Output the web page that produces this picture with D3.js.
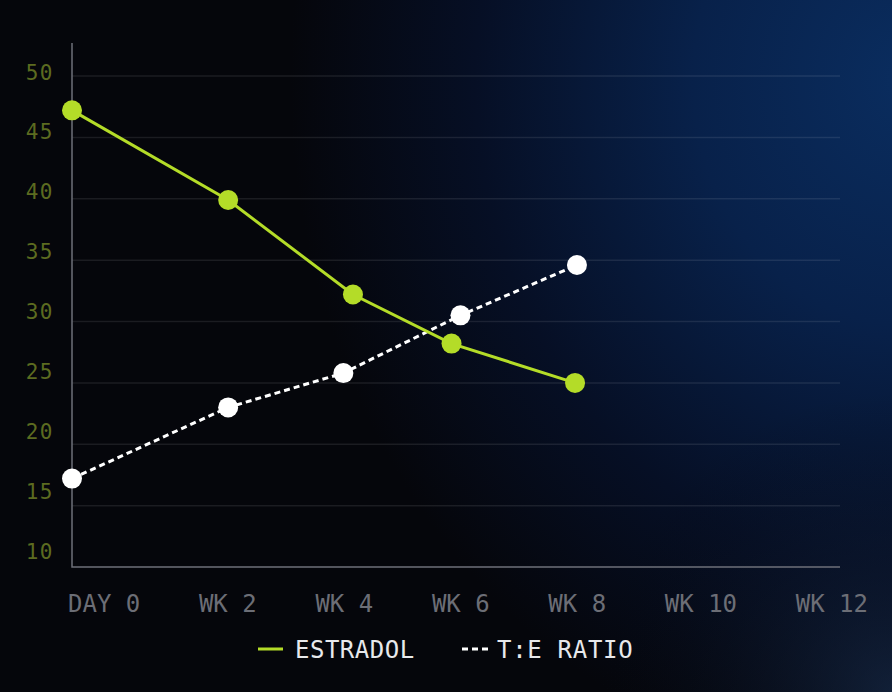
<!DOCTYPE html>
<html>
<head>
<meta charset="utf-8">
<script src="https://cdn.jsdelivr.net/npm/d3@7"></script>
<style>
  html, body { margin: 0; padding: 0; background: #05060b; }
  svg { display: block; }
</style>
</head>
<body>
<svg id="svg" width="892" height="692"></svg>
<script>
const svg = d3.select("#svg");

// x positions are in weeks
const estradolWeeks = [0, 2.44, 4.39, 5.93, 7.86];
const estradolValues = [47.2, 39.9, 32.2, 28.2, 25.0];

const ratioWeeks = [0, 2.44, 4.24, 6.07, 7.89];
const ratioValues = [17.2, 23.0, 25.8, 30.5, 34.6];

const xLabels = ["DAY 0", "WK 2", "WK 4", "WK 6", "WK 8", "WK 10", "WK 12"];
const yTicks = [10, 15, 20, 25, 30, 35, 40, 45, 50];

const width = 892;
const height = 692;
const plot = { left: 72, right: 840, top: 76, bottom: 567 };

const lime = "#b4dc28";
const mono = "'DejaVu Sans Mono', 'Liberation Mono', monospace";

const x = d3.scaleLinear().domain([0, 12]).range([plot.left, plot.right]);
const y = d3.scaleLinear().domain([10, 50]).range([plot.bottom, plot.top]);
// tick labels sit slightly off the grid in the original
const yLabel = d3.scaleLinear().domain([10, 50]).range([551, 72]);

// background: dark, with a blue glow coming in from the top right
const defs = svg.append("defs");
const bg = defs.append("radialGradient")
  .attr("id", "bg")
  .attr("gradientUnits", "userSpaceOnUse")
  .attr("cx", 0).attr("cy", 0).attr("r", 1)
  .attr("gradientTransform", "translate(910,80) scale(620,700)");
bg.append("stop").attr("offset", 0).attr("stop-color", "#0a2d5f");
bg.append("stop").attr("offset", 0.35).attr("stop-color", "#08214a");
bg.append("stop").attr("offset", 0.7).attr("stop-color", "#060f25");
bg.append("stop").attr("offset", 1).attr("stop-color", "#05060b");

const bg2 = defs.append("radialGradient")
  .attr("id", "bg2")
  .attr("gradientUnits", "userSpaceOnUse")
  .attr("cx", 892).attr("cy", 692).attr("r", 300);
bg2.append("stop").attr("offset", 0).attr("stop-color", "#1b3152").attr("stop-opacity", 0.55);
bg2.append("stop").attr("offset", 1).attr("stop-color", "#05060b").attr("stop-opacity", 0);

svg.append("rect").attr("width", width).attr("height", height).attr("fill", "#05060b");
svg.append("rect").attr("width", width).attr("height", height).attr("fill", "url(#bg)");
svg.append("rect").attr("width", width).attr("height", height).attr("fill", "url(#bg2)");

// grid
svg.append("g")
  .selectAll("line")
  .data(yTicks.filter((d) => d > 10))
  .join("line")
  .attr("x1", plot.left).attr("x2", plot.right)
  .attr("y1", (d) => y(d)).attr("y2", (d) => y(d))
  .style("stroke", "#ffffff")
  .style("stroke-opacity", 0.09)
  .style("stroke-width", 1.5);

// axes lines
svg.append("path")
  .attr("d", `M${plot.left},43V${plot.bottom}H${plot.right}`)
  .style("fill", "none")
  .style("stroke", "#6d7079")
  .style("stroke-width", 1.5);

// y labels
svg.append("g")
  .selectAll("text")
  .data(yTicks)
  .join("text")
  .attr("x", 54)
  .attr("y", (d) => yLabel(d))
  .attr("dy", "0.36em")
  .attr("text-anchor", "end")
  .style("font-family", mono)
  .style("font-size", "21px")
  .style("letter-spacing", "1.5px")
  .style("fill", "#5c6b20")
  .text((d) => d);

// x labels, spread edge to edge like a space-between row
const xl = svg.append("g")
  .selectAll("text")
  .data(xLabels)
  .join("text")
  .attr("y", 603)
  .attr("dy", "0.36em")
  .style("font-family", mono)
  .style("font-size", "24px")
  .style("fill", "#6c6e76")
  .text((d) => d);

const widths = xl.nodes().map((n) => n.getComputedTextLength());
const gap = (800 - d3.sum(widths)) / (xLabels.length - 1);
let cursor = 68;
xl.attr("x", (d, i) => {
  const pos = cursor;
  cursor += widths[i] + gap;
  return pos;
});

const line = d3.line().x((d) => x(d[0])).y((d) => y(d[1]));

const ratio = d3.zip(ratioWeeks, ratioValues);
const estradol = d3.zip(estradolWeeks, estradolValues);

svg.append("path")
  .datum(ratio)
  .attr("d", line)
  .style("fill", "none")
  .style("stroke", "#ffffff")
  .style("stroke-width", 3)
  .style("stroke-dasharray", "6 4");

svg.append("path")
  .datum(estradol)
  .attr("d", line)
  .style("fill", "none")
  .style("stroke", lime)
  .style("stroke-width", 3);

svg.append("g")
  .selectAll("circle")
  .data(estradol)
  .join("circle")
  .attr("cx", (d) => x(d[0]))
  .attr("cy", (d) => y(d[1]))
  .attr("r", 10)
  .style("fill", lime);

svg.append("g")
  .selectAll("circle")
  .data(ratio)
  .join("circle")
  .attr("cx", (d) => x(d[0]))
  .attr("cy", (d) => y(d[1]))
  .attr("r", 10)
  .style("fill", "#ffffff");

// legend
const legend = svg.append("g").attr("transform", "translate(0,649)");
legend.append("line")
  .attr("x1", 258).attr("x2", 283)
  .style("stroke", lime).style("stroke-width", 3);
legend.append("text")
  .attr("x", 295).attr("dy", "0.36em")
  .style("font-family", mono).style("font-size", "24px")
  .style("letter-spacing", "0.5px").style("fill", "#e8e9ec")
  .text("ESTRADOL");
legend.append("line")
  .attr("x1", 462).attr("x2", 488)
  .style("stroke", "#ffffff").style("stroke-width", 3)
  .style("stroke-dasharray", "6 4");
legend.append("text")
  .attr("x", 497).attr("dy", "0.36em")
  .style("font-family", mono).style("font-size", "24px")
  .style("letter-spacing", "0.7px").style("fill", "#e8e9ec")
  .text("T:E RATIO");
</script>
</body>
</html>
